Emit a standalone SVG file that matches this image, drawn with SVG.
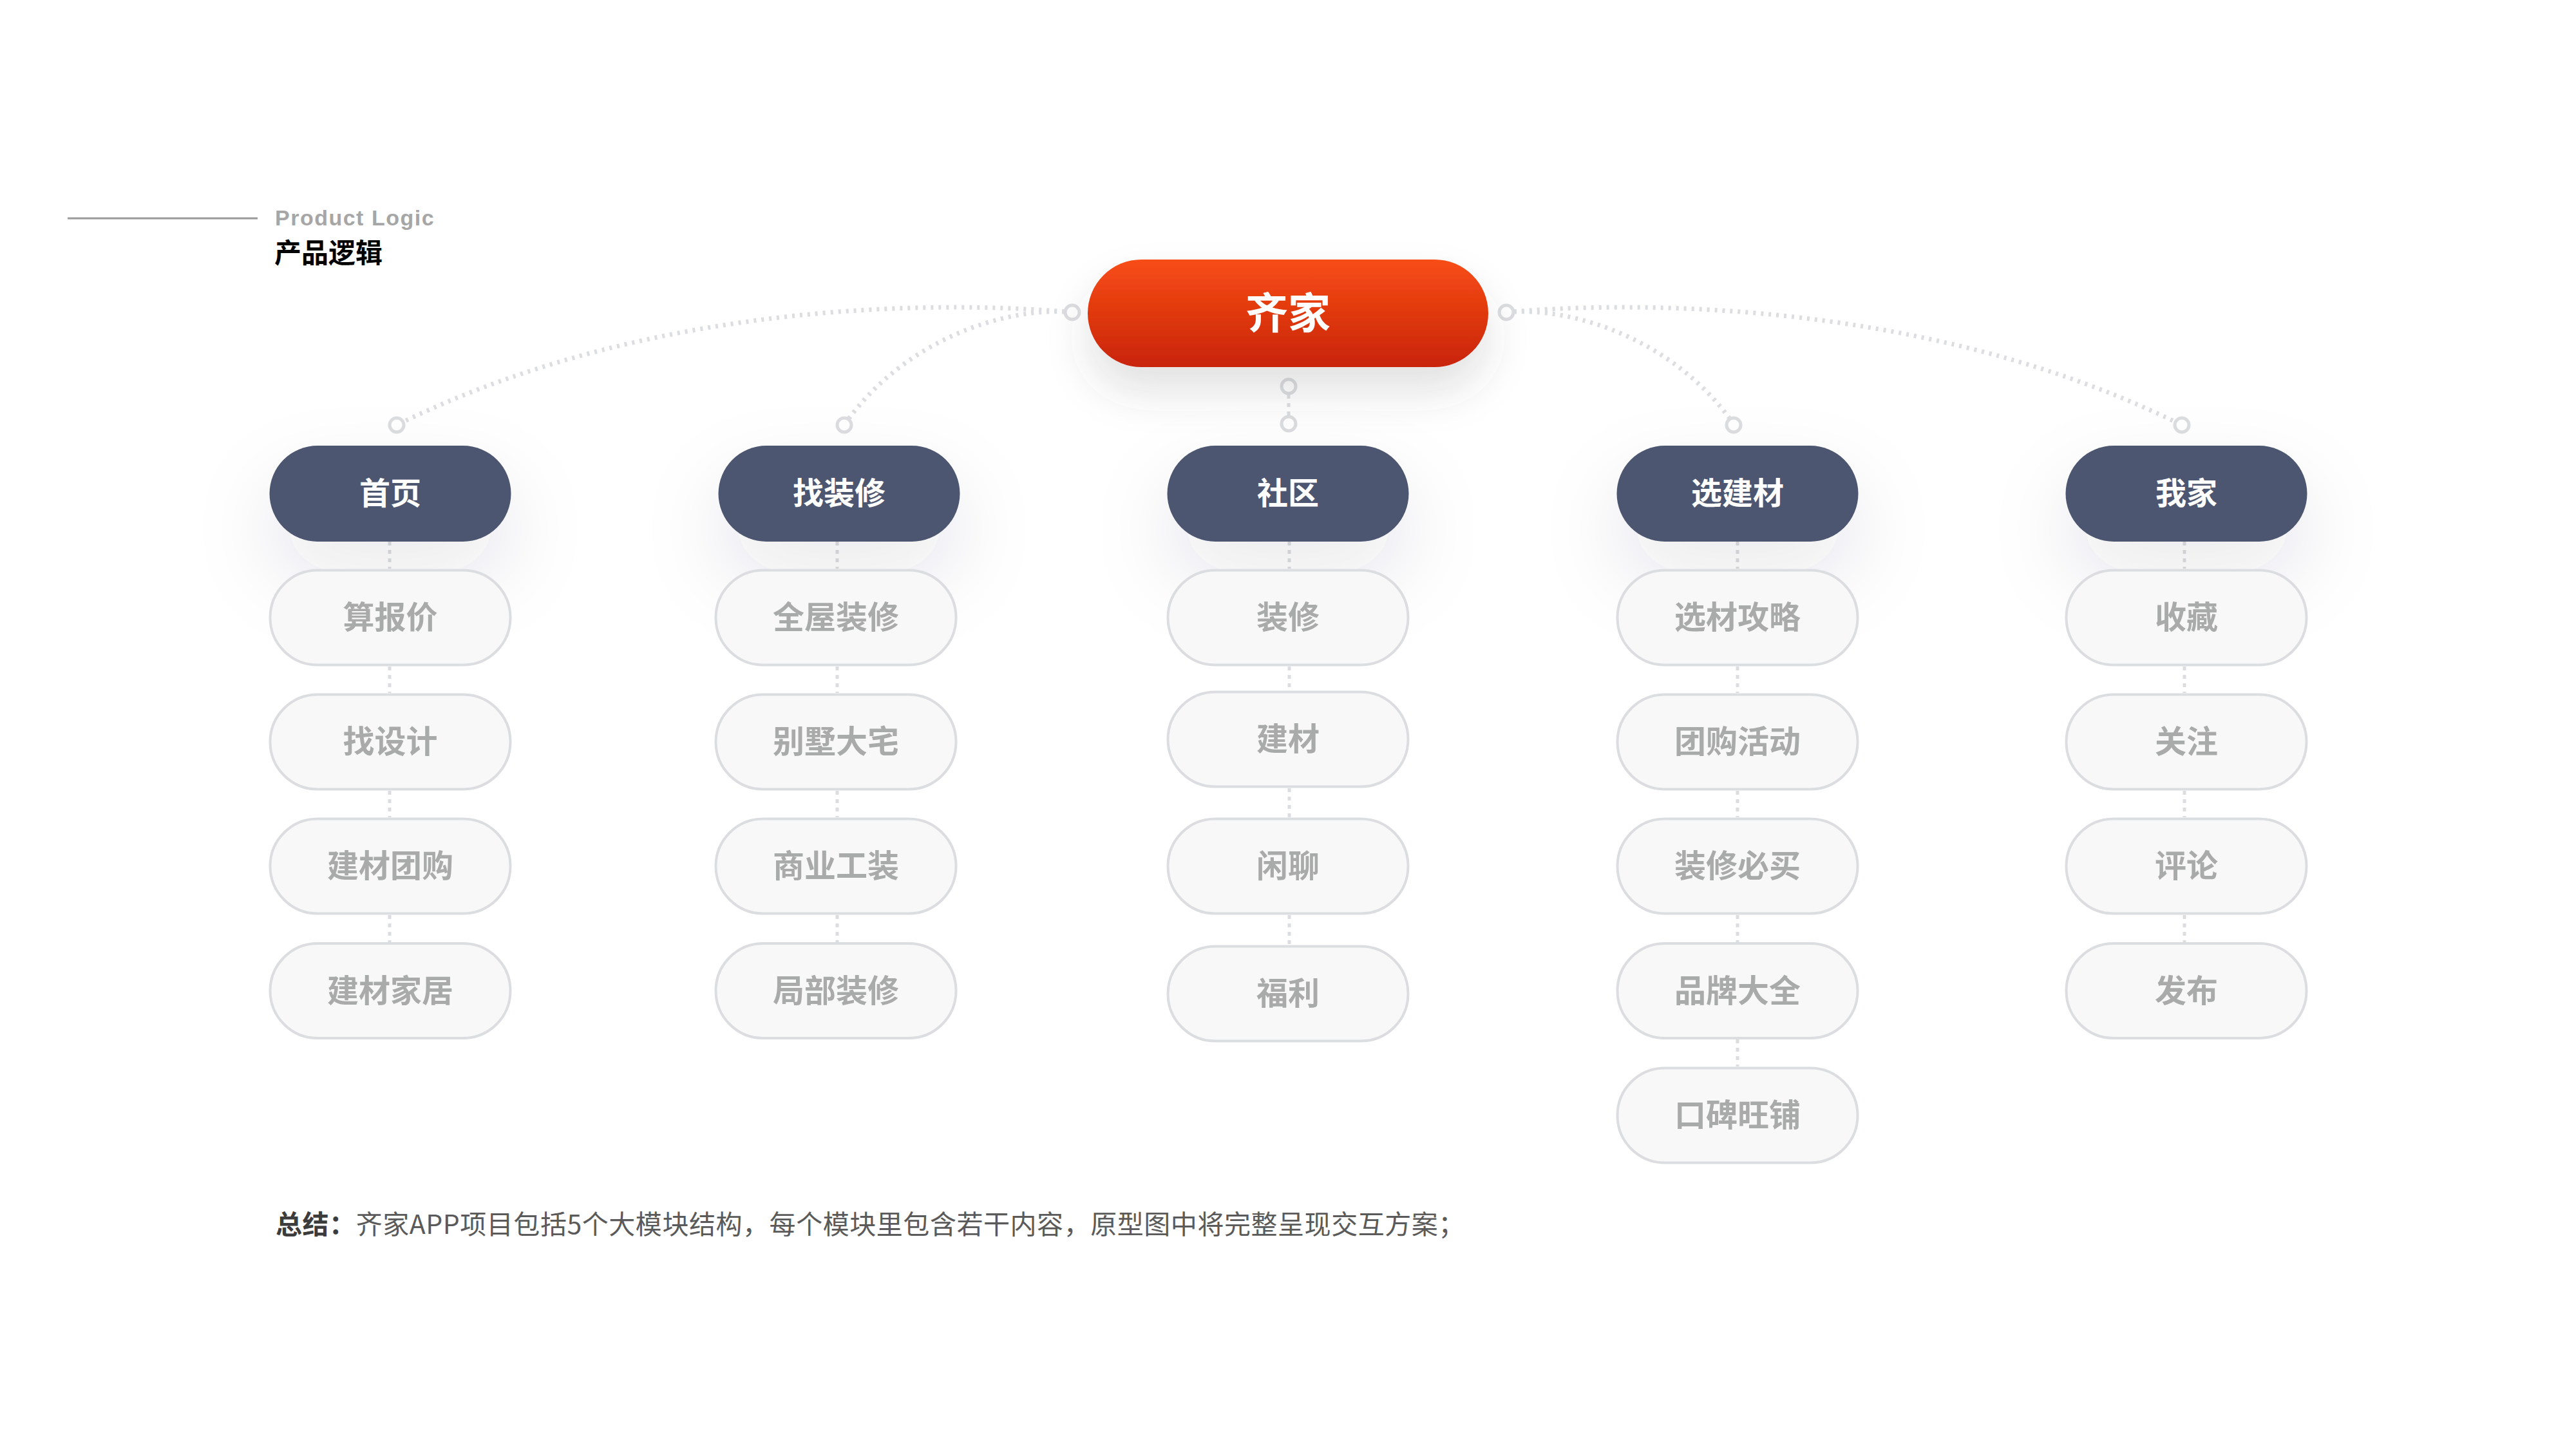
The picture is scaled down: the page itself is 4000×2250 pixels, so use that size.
<svg xmlns="http://www.w3.org/2000/svg" width="4000" height="2250" viewBox="0 0 4000 2250">
<defs>
  <linearGradient id="gTop" x1="0" y1="0" x2="0" y2="1">
    <stop offset="0" stop-color="#F84D15"/>
    <stop offset="1" stop-color="#C8240A"/>
  </linearGradient>
  <filter id="shCat" x="-60%" y="-80%" width="220%" height="320%">
    <feDropShadow dx="0" dy="55" stdDeviation="60" flood-color="#3E4248" flood-opacity="0.10"/>
  </filter>
  <filter id="shTop" x="-30%" y="-60%" width="160%" height="260%">
    <feDropShadow dx="0" dy="38" stdDeviation="32" flood-color="#4A4A4A" flood-opacity="0.16"/>
  </filter>
</defs>
<style>
  .cat rect { fill: #4D5770; }
  .cat text { fill: #FFFFFF; font-family: "Noto Sans CJK SC", sans-serif; font-weight: 700; font-size: 48px; text-anchor: middle; }
  .sub rect { fill: #F8F8F8; stroke: #DCDDE0; stroke-width: 4; }
  .sub text { fill: #A9ABAA; font-family: "Noto Sans CJK SC", sans-serif; font-weight: 700; font-size: 49px; text-anchor: middle; }
  .top text { fill: #FFFFFF; font-family: "Noto Sans CJK SC", sans-serif; font-weight: 700; font-size: 66px; text-anchor: middle; }
  .curve { fill: none; stroke: #DCDDE0; stroke-width: 7; stroke-dasharray: 4 8; }
  .vline { stroke: #DCDDE0; stroke-width: 5; stroke-dasharray: 6 7; }
  .ring { fill: #FFFFFF; stroke: #DCDDE0; stroke-width: 5; }
</style>
<rect width="4000" height="2250" fill="#FFFFFF"/>

<g id="header">
  <line x1="105" y1="339" x2="400" y2="339" stroke="#9A9A9A" stroke-width="3"/>
  <text x="427" y="350" font-family="Liberation Sans, Arial, sans-serif" font-weight="700" font-size="34" letter-spacing="1.5" fill="#A6A6A6">Product Logic</text>
  <text x="426" y="408" font-family="Noto Sans CJK SC, sans-serif" font-weight="700" font-size="42" fill="#000000">产品逻辑</text>
</g>

<g id="connectors">
  <path class="curve" d="M1665,485 C1450,465 1000,470 616,660"/>
  <path class="curve" d="M1665,485 C1560,475 1400,530 1311,660"/>
  <path class="curve" d="M2339,485 C2554,465 3004,470 3388,660"/>
  <path class="curve" d="M2339,485 C2444,475 2604,530 2693,660"/>
  <line class="vline" x1="2001" y1="600" x2="2001" y2="658"/>
  <circle class="ring" cx="1665" cy="485" r="11"/>
  <circle class="ring" cx="2339" cy="485" r="11"/>
  <circle class="ring" cx="2001" cy="600" r="11"/>
  <circle class="ring" cx="2001" cy="658" r="11"/>
  <circle class="ring" cx="616" cy="660" r="11"/>
  <circle class="ring" cx="1311" cy="660" r="11"/>
  <circle class="ring" cx="2692" cy="660" r="11"/>
  <circle class="ring" cx="3388" cy="660" r="11"/>
  <!-- column 1 -->
  <line class="vline" x1="605" y1="841" x2="605" y2="883"/>
  <line class="vline" x1="605" y1="1035" x2="605" y2="1076"/>
  <line class="vline" x1="605" y1="1228" x2="605" y2="1269"/>
  <line class="vline" x1="605" y1="1421" x2="605" y2="1463"/>
  <!-- column 2 -->
  <line class="vline" x1="1300" y1="841" x2="1300" y2="883"/>
  <line class="vline" x1="1300" y1="1035" x2="1300" y2="1076"/>
  <line class="vline" x1="1300" y1="1228" x2="1300" y2="1269"/>
  <line class="vline" x1="1300" y1="1421" x2="1300" y2="1463"/>
  <!-- column 3 -->
  <line class="vline" x1="2002" y1="841" x2="2002" y2="883"/>
  <line class="vline" x1="2002" y1="1035" x2="2002" y2="1072"/>
  <line class="vline" x1="2002" y1="1224" x2="2002" y2="1269"/>
  <line class="vline" x1="2002" y1="1421" x2="2002" y2="1467"/>
  <!-- column 4 -->
  <line class="vline" x1="2698" y1="841" x2="2698" y2="883"/>
  <line class="vline" x1="2698" y1="1035" x2="2698" y2="1076"/>
  <line class="vline" x1="2698" y1="1228" x2="2698" y2="1269"/>
  <line class="vline" x1="2698" y1="1421" x2="2698" y2="1463"/>
  <line class="vline" x1="2698" y1="1614" x2="2698" y2="1656"/>
  <!-- column 5 -->
  <line class="vline" x1="3392" y1="841" x2="3392" y2="883"/>
  <line class="vline" x1="3392" y1="1035" x2="3392" y2="1076"/>
  <line class="vline" x1="3392" y1="1228" x2="3392" y2="1269"/>
  <line class="vline" x1="3392" y1="1421" x2="3392" y2="1463"/>
</g>

<g id="node-qijia" class="top">
  <rect x="1689" y="403" width="622" height="167" rx="83.5" fill="url(#gTop)" filter="url(#shTop)"/>
  <text x="2000" y="510">齐家</text>
</g>

<g id="node-shouye" class="cat">
  <rect x="418.5" y="692" width="375" height="149" rx="74.5" filter="url(#shCat)"/>
  <text x="606" y="783">首页</text>
</g>
<g id="node-zhaozhuangxiu" class="cat">
  <rect x="1115.5" y="692" width="375" height="149" rx="74.5" filter="url(#shCat)"/>
  <text x="1303" y="783">找装修</text>
</g>
<g id="node-shequ" class="cat">
  <rect x="1812.5" y="692" width="375" height="149" rx="74.5" filter="url(#shCat)"/>
  <text x="2000" y="783">社区</text>
</g>
<g id="node-xuanjiancai" class="cat">
  <rect x="2510.5" y="692" width="375" height="149" rx="74.5" filter="url(#shCat)"/>
  <text x="2698" y="783">选建材</text>
</g>
<g id="node-wojia" class="cat">
  <rect x="3207.5" y="692" width="375" height="149" rx="74.5" filter="url(#shCat)"/>
  <text x="3395" y="783">我家</text>
</g>

<!-- column 1 subs -->
<g id="node-suanbaojia" class="sub"><rect x="419.5" y="885.5" width="373" height="147" rx="73.5"/><text x="606" y="976">算报价</text></g>
<g id="node-zhaosheji" class="sub"><rect x="419.5" y="1078.5" width="373" height="147" rx="73.5"/><text x="606" y="1169">找设计</text></g>
<g id="node-jiancaituangou" class="sub"><rect x="419.5" y="1271.5" width="373" height="147" rx="73.5"/><text x="606" y="1362">建材团购</text></g>
<g id="node-jiancaijiaju" class="sub"><rect x="419.5" y="1465" width="373" height="147" rx="73.5"/><text x="606" y="1555.5">建材家居</text></g>

<!-- column 2 subs -->
<g id="node-quanwuzhuangxiu" class="sub"><rect x="1111.5" y="885.5" width="373" height="147" rx="73.5"/><text x="1298" y="976">全屋装修</text></g>
<g id="node-bieshudazhai" class="sub"><rect x="1111.5" y="1078.5" width="373" height="147" rx="73.5"/><text x="1298" y="1169">别墅大宅</text></g>
<g id="node-shangyegongzhuang" class="sub"><rect x="1111.5" y="1271.5" width="373" height="147" rx="73.5"/><text x="1298" y="1362">商业工装</text></g>
<g id="node-jubuzhuangxiu" class="sub"><rect x="1111.5" y="1465" width="373" height="147" rx="73.5"/><text x="1298" y="1555.5">局部装修</text></g>

<!-- column 3 subs -->
<g id="node-zhuangxiu" class="sub"><rect x="1813.5" y="885.5" width="373" height="147" rx="73.5"/><text x="2000" y="976">装修</text></g>
<g id="node-jiancai" class="sub"><rect x="1813.5" y="1074.5" width="373" height="147" rx="73.5"/><text x="2000" y="1165">建材</text></g>
<g id="node-xianliao" class="sub"><rect x="1813.5" y="1271.5" width="373" height="147" rx="73.5"/><text x="2000" y="1362">闲聊</text></g>
<g id="node-fuli" class="sub"><rect x="1813.5" y="1469.5" width="373" height="147" rx="73.5"/><text x="2000" y="1560">福利</text></g>

<!-- column 4 subs -->
<g id="node-xuancaigonglue" class="sub"><rect x="2511.5" y="885.5" width="373" height="147" rx="73.5"/><text x="2698" y="976">选材攻略</text></g>
<g id="node-tuangouhuodong" class="sub"><rect x="2511.5" y="1078.5" width="373" height="147" rx="73.5"/><text x="2698" y="1169">团购活动</text></g>
<g id="node-zhuangxiubimai" class="sub"><rect x="2511.5" y="1271.5" width="373" height="147" rx="73.5"/><text x="2698" y="1362">装修必买</text></g>
<g id="node-pinpaidaquan" class="sub"><rect x="2511.5" y="1465" width="373" height="147" rx="73.5"/><text x="2698" y="1555.5">品牌大全</text></g>
<g id="node-koubeiwangpu" class="sub"><rect x="2511.5" y="1658.5" width="373" height="147" rx="73.5"/><text x="2698" y="1749">口碑旺铺</text></g>

<!-- column 5 subs -->
<g id="node-shoucang" class="sub"><rect x="3208.5" y="885.5" width="373" height="147" rx="73.5"/><text x="3395" y="976">收藏</text></g>
<g id="node-guanzhu" class="sub"><rect x="3208.5" y="1078.5" width="373" height="147" rx="73.5"/><text x="3395" y="1169">关注</text></g>
<g id="node-pinglun" class="sub"><rect x="3208.5" y="1271.5" width="373" height="147" rx="73.5"/><text x="3395" y="1362">评论</text></g>
<g id="node-fabu" class="sub"><rect x="3208.5" y="1465" width="373" height="147" rx="73.5"/><text x="3395" y="1555.5">发布</text></g>

<g id="summary">
  <text x="428" y="1916" font-family="Noto Sans CJK SC, sans-serif" font-size="41" letter-spacing="0.55" fill="#5A5A5A"><tspan font-weight="700" fill="#3C3C3C">总结：</tspan>齐家APP项目包括5个大模块结构，每个模块里包含若干内容，原型图中将完整呈现交互方案；</text>
</g>
</svg>
